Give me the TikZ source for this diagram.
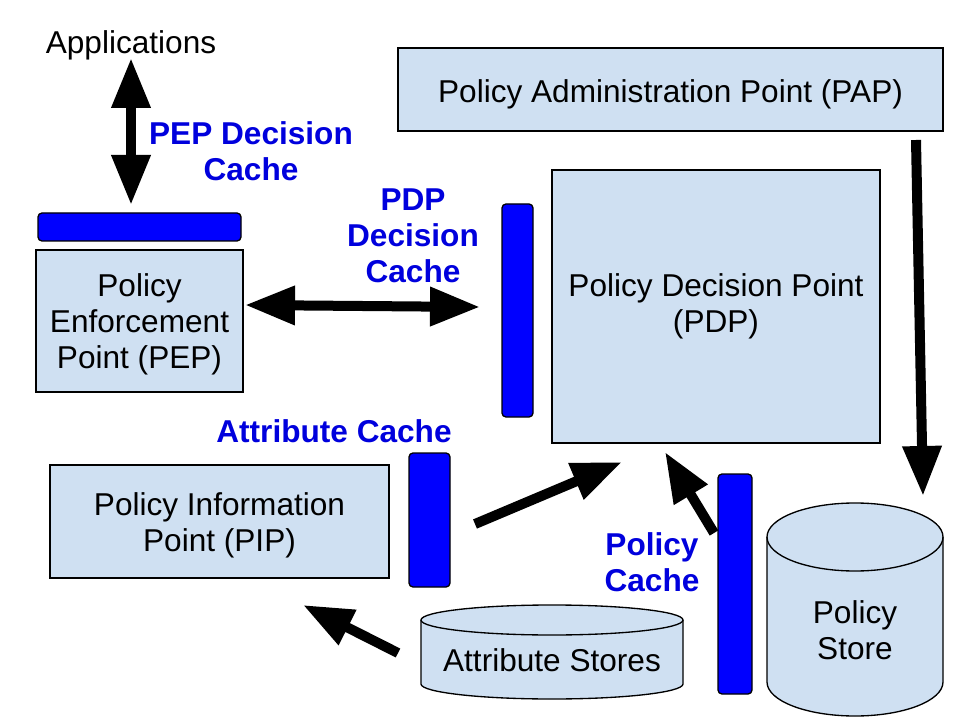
\documentclass[tikz,border=0pt]{standalone}
\usepackage{fontspec}
\setmainfont{Liberation Sans}
\usetikzlibrary{arrows.meta}
\definecolor{boxfill}{RGB}{207,224,242}
\definecolor{cacheblue}{RGB}{0,0,255}
\definecolor{labelblue}{RGB}{0,0,221}
\begin{document}
\begin{tikzpicture}[x=0.75pt,y=-0.75pt,
  every node/.style={font=\fontsize{23.7}{27}\selectfont},
  box/.style={draw=black,line width=1pt,fill=boxfill,inner sep=0pt},
  boxtext/.style={align=center,inner sep=0pt},
  cachebar/.style={draw=black,line width=1pt,fill=cacheblue,rounded corners=3pt,inner sep=0pt},
  bluelabel/.style={text=labelblue,font=\fontsize{23.7}{27}\selectfont\bfseries,align=center},
  bigarrow/.style={line width=7.5pt,-{Triangle[length=37.5pt,width=27.75pt]}},
  bigdarrow/.style={line width=7.5pt,{Triangle[length=37.5pt,width=27.75pt]}-{Triangle[length=37.5pt,width=27.75pt]}},
  cyl/.style={draw=black,line width=1pt,fill=boxfill}]
\useasboundingbox (0,0) rectangle (960,720);
\fill[white] (0,0) rectangle (960,720);

% boxes
\node[box,minimum width=408.75pt,minimum height=62.25pt] (pap) at (670.5,89.5) {};
\node[boxtext] (papt) at (670.5,94) {Policy Administration Point (PAP)};
\node[box,minimum width=246pt,minimum height=204.75pt] (pdp) at (716,306.5) {};
\node[boxtext] (pdpt) at (716,306.5) {Policy Decision Point\\(PDP)};
\node[box,minimum width=155.25pt,minimum height=106.5pt] (pep) at (139.5,321) {};
\node[boxtext] (pept) at (139.5,324.5) {Policy\\Enforcement\\Point (PEP)};
\node[box,minimum width=254.25pt,minimum height=84.75pt] (pip) at (219.5,521.5) {};
\node[boxtext] (pipt) at (219.5,525) {Policy Information\\Point (PIP)};

% caches
\node[cachebar,minimum width=152.25pt,minimum height=21pt] (pepcache) at (139.5,227) {};
\node[cachebar,minimum width=23.25pt,minimum height=159.75pt] (pdpcache) at (517.5,310.5) {};
\node[cachebar,minimum width=30.75pt,minimum height=100.5pt] (attrcache) at (429.5,520) {};
\node[cachebar,minimum width=25.5pt,minimum height=165pt] (polcache) at (735,584) {};

% cylinders
\draw[cyl] (421,620) -- (421,684) arc[start angle=180,end angle=0,x radius=131,y radius=15]
  -- (683,620) arc[start angle=0,end angle=-180,x radius=131,y radius=15] -- cycle;
\draw[line width=1pt] (421,620) arc[start angle=180,end angle=0,x radius=131,y radius=15];
\node (stores) at (552,660) {Attribute Stores};

\draw[cyl] (767,537) -- (767,682) arc[start angle=180,end angle=0,x radius=88,y radius=34]
  -- (943,537) arc[start angle=0,end angle=-180,x radius=88,y radius=34] -- cycle;
\draw[line width=1pt] (767,537) arc[start angle=180,end angle=0,x radius=88,y radius=34];
\node[align=center] (store) at (855,630) {Policy\\Store};

% labels
\node (app) at (131,45) {Applications};
\node[bluelabel] (peplbl) at (251,151.5) {PEP Decision\\Cache};
\node[bluelabel] (pdplbl) at (413,236) {PDP\\Decision\\Cache};
\node[bluelabel] (attrlbl) at (334,431) {Attribute Cache};
\node[bluelabel] (pollbl) at (652,562) {Policy\\Cache};

% arrow end points
\coordinate (a1) at (131,58);
\coordinate (a2) at (131,205);
\coordinate (b1) at (245,305);
\coordinate (b2) at (480,307);
\coordinate (c1) at (475,524);
\coordinate (c2) at (622,462);
\coordinate (d1) at (398,653);
\coordinate (d2) at (303,605);
\coordinate (e1) at (714,533);
\coordinate (e2) at (665,452);
\coordinate (f1) at (916,140);
\coordinate (f2) at (923,496);

% arrows
\draw[bigdarrow] (a1) -- (a2);
\draw[bigdarrow] (b1) -- (b2);
\draw[bigarrow] (c1) -- (c2);
\draw[bigarrow] (d1) -- (d2);
\draw[bigarrow] (e1) -- (e2);
\draw[bigarrow] (f1) -- (f2);
\end{tikzpicture}
\end{document}
